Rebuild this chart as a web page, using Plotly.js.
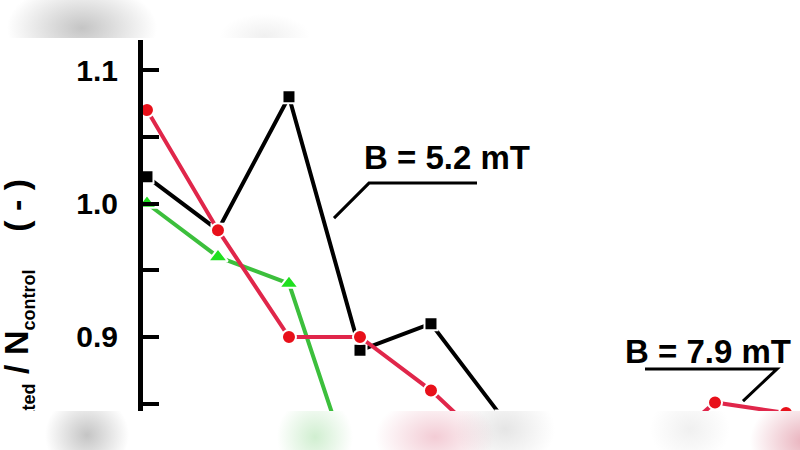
<!DOCTYPE html>
<html>
<head>
<meta charset="utf-8">
<script src="https://cdn.plot.ly/plotly-3.0.1.min.js"></script>
<style>
  body { margin: 0; background: #fff; }
  #wrap { position: relative; width: 800px; height: 450px; overflow: hidden; }
  #chart { width: 800px; height: 450px; }
  /* soft bands at the top and bottom edge of the picture */
  .band { position: absolute; left: 0; width: 800px; pointer-events: none; }
  #bandTop {
    top: 0; height: 38px;
    background:
      radial-gradient(ellipse 75px 45px at 82px 28px, rgba(190,190,190,0.9), rgba(255,255,255,0)),
      radial-gradient(ellipse 45px 22px at 265px 36px, rgba(236,236,236,0.8), rgba(255,255,255,0)),
      #fff;
  }
  #bandBottom {
    top: 411px; height: 39px;
    background:
      radial-gradient(ellipse 42px 40px at 87px 24px, rgba(190,190,190,0.9), rgba(255,255,255,0)),
      radial-gradient(ellipse 38px 40px at 315px 26px, rgba(170,225,170,0.55), rgba(255,255,255,0)),
      radial-gradient(ellipse 60px 40px at 435px 26px, rgba(235,170,185,0.6), rgba(255,255,255,0)),
      radial-gradient(ellipse 50px 40px at 505px 18px, rgba(212,212,212,0.6), rgba(255,255,255,0)),
      radial-gradient(ellipse 40px 35px at 690px 18px, rgba(228,228,228,0.55), rgba(255,255,255,0)),
      radial-gradient(ellipse 55px 45px at 805px 30px, rgba(225,150,165,0.75), rgba(255,255,255,0)),
      #fff;
  }
</style>
</head>
<body>
<div id="wrap">
  <div id="chart"></div>
  <div class="band" id="bandTop"></div>
  <div class="band" id="bandBottom"></div>
</div>
<script>
// sample positions along the x axis (equally spaced)
var x_all = [0, 1, 2, 3, 4, 5, 6, 7, 8, 9];

// N_treated / N_control for each series
var black_vals = [1.02, 0.98, 1.08, 0.89, 0.91, 0.84];
var green_vals = [1.00, 0.96, 0.94, 0.78];
var red_vals   = [1.07, 0.98, 0.90, 0.90, 0.86, 0.81, 0.79, 0.805, 0.851, 0.843];

var y_ticks  = [0.85, 0.90, 0.95, 1.00, 1.05, 1.10];
var y_labels = ['', '0.9', '', '1.0', '', '1.1'];

var label_52 = 'B = 5.2 mT';
var label_79 = 'B = 7.9 mT';
var y_title  = 'N<sub><span style="font-size:18px">treated</span></sub> / ' +
               'N<sub><span style="font-size:18px">control</span></sub>\u00a0\u00a0\u00a0\u00a0( - )';

var font_family = 'Liberation Sans, Arial, sans-serif';

function series(vals, line_color, marker_color, symbol, size) {
  return {
    x: x_all.slice(0, vals.length),
    y: vals,
    type: 'scatter',
    mode: 'lines+markers',
    line: { color: line_color, width: 4 },
    marker: { color: marker_color, symbol: symbol, size: size,
              line: { color: 'white', width: 2 } },
    cliponaxis: true,
    showlegend: false
  };
}

var traces = [
  series(green_vals, '#3cbf3c', '#1fe01f', 'triangle-up', 17),
  series(black_vals, '#000000', '#000000', 'square', 13),
  series(red_vals,   '#e0264a', '#e8101a', 'circle', 14)
];

// leader line drawn as a path in data coordinates
function leader(pts) {
  var d = 'M' + pts.map(function (p) { return p[0] + ',' + p[1]; }).join(' L');
  return { type: 'path', xref: 'x', yref: 'y', path: d,
           line: { color: 'black', width: 3 } };
}

var layout = {
  width: 800,
  height: 450,
  margin: { l: 143, r: 0, t: 40, b: 0 },
  paper_bgcolor: 'white',
  plot_bgcolor: 'white',
  font: { family: font_family, color: 'black' },
  xaxis: {
    range: [-0.056, 9.197],
    visible: false,
    fixedrange: true
  },
  yaxis: {
    range: [0.81535, 1.12247],
    showgrid: false,
    zeroline: false,
    showline: true,
    linecolor: 'black',
    linewidth: 5,
    ticks: 'inside',
    ticklen: 16,
    tickwidth: 4,
    tickcolor: 'black',
    tickvals: y_ticks,
    ticktext: y_labels,
    ticklabelstandoff: 14,
    tickfont: { family: font_family, size: 30, weight: 'bold', color: 'black' },
    fixedrange: true
  },
  shapes: [
    leader([[2.634, 0.989], [3.127, 1.0153], [4.648, 1.0153]]),
    leader([[7.014, 0.876], [8.873, 0.876], [8.394, 0.852]])
  ],
  annotations: [
    { xref: 'x', yref: 'y', x: 4.22, y: 1.0348, text: label_52, showarrow: false,
      font: { family: font_family, size: 33, weight: 'bold', color: 'black' } },
    { xref: 'x', yref: 'y', x: 7.9, y: 0.8888, text: label_79, showarrow: false,
      font: { family: font_family, size: 33, weight: 'bold', color: 'black' } },
    { xref: 'paper', yref: 'paper', x: -0.19, y: 0.665, xanchor: 'center', yanchor: 'top',
      textangle: -90, text: y_title, showarrow: false,
      font: { family: font_family, size: 34, weight: 'bold', color: 'black' } }
  ]
};

Plotly.newPlot('chart', traces, layout, { staticPlot: true, displayModeBar: false });
</script>
</body>
</html>
